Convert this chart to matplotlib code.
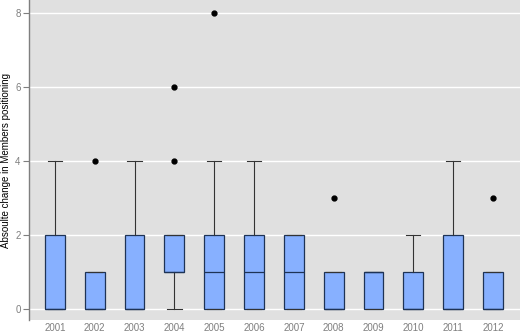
import matplotlib
matplotlib.use("Agg")
import matplotlib.pyplot as plt

# box statistics
years = ["2001", "2002", "2003", "2004", "2005", "2006",
         "2007", "2008", "2009", "2010", "2011", "2012"]
whislo = [0, 0, 0, 0, 0, 0, 0, 0, 0, 0, 0, 0]
q1 = [0, 0, 0, 1, 0, 0, 0, 0, 0, 0, 0, 0]
med = [0, 0, 0, 1, 1, 1, 1, 0, 1, 0, 0, 0]
q3 = [2, 1, 2, 2, 2, 2, 2, 1, 1, 1, 2, 1]
whishi = [4, 1, 4, 2, 4, 4, 2, 1, 1, 2, 4, 1]
outliers = [[], [4], [], [4, 6], [8], [], [], [3], [], [], [], [3]]

plt.rcParams['font.family'] = ['Liberation Sans', 'DejaVu Sans']

stats = []
for i in range(len(years)):
    stats.append(dict(label=years[i], whislo=whislo[i], q1=q1[i], med=med[i],
                      q3=q3[i], whishi=whishi[i], fliers=outliers[i]))

fig = plt.figure(figsize=(5.2, 3.35), dpi=100)
ax = fig.add_axes([29 / 520, 15 / 335, 491 / 520, 320 / 335])
ax.set_facecolor("#E0E0E0")

ax.bxp(stats, positions=range(1, len(years) + 1), widths=0.5, capwidths=0.36,
       patch_artist=True, zorder=3,
       boxprops=dict(facecolor="#87B0FF", edgecolor="#1E3356", linewidth=0.9),
       medianprops=dict(color="#1E3356", linewidth=0.9),
       whiskerprops=dict(color="#333333", linewidth=0.8),
       capprops=dict(color="#333333", linewidth=0.8),
       flierprops=dict(marker="o", markerfacecolor="black", markeredgecolor="black",
                       markersize=3.5))

ax.set_xlim(0.35, 12.68)
ax.set_ylim(-0.30, 8.34)
ax.set_yticks([0, 2, 4, 6, 8])
ax.grid(axis="y", color="white", linewidth=1.0, zorder=0)
ax.set_axisbelow(True)

for s in ["top", "right", "bottom"]:
    ax.spines[s].set_visible(False)
ax.spines["left"].set_color("#7F7F7F")
ax.spines["left"].set_linewidth(1.0)

ax.tick_params(axis="y", length=4, width=0.8, color="#7F7F7F", labelsize=7,
               labelcolor="#7F7F7F", pad=2)
ax.tick_params(axis="x", length=0, labelsize=7, labelcolor="#7F7F7F", pad=2)

ax.set_ylabel("Absoulte change in Members positioning", fontsize=7, labelpad=3)

fig.savefig("out.png", dpi=100)
